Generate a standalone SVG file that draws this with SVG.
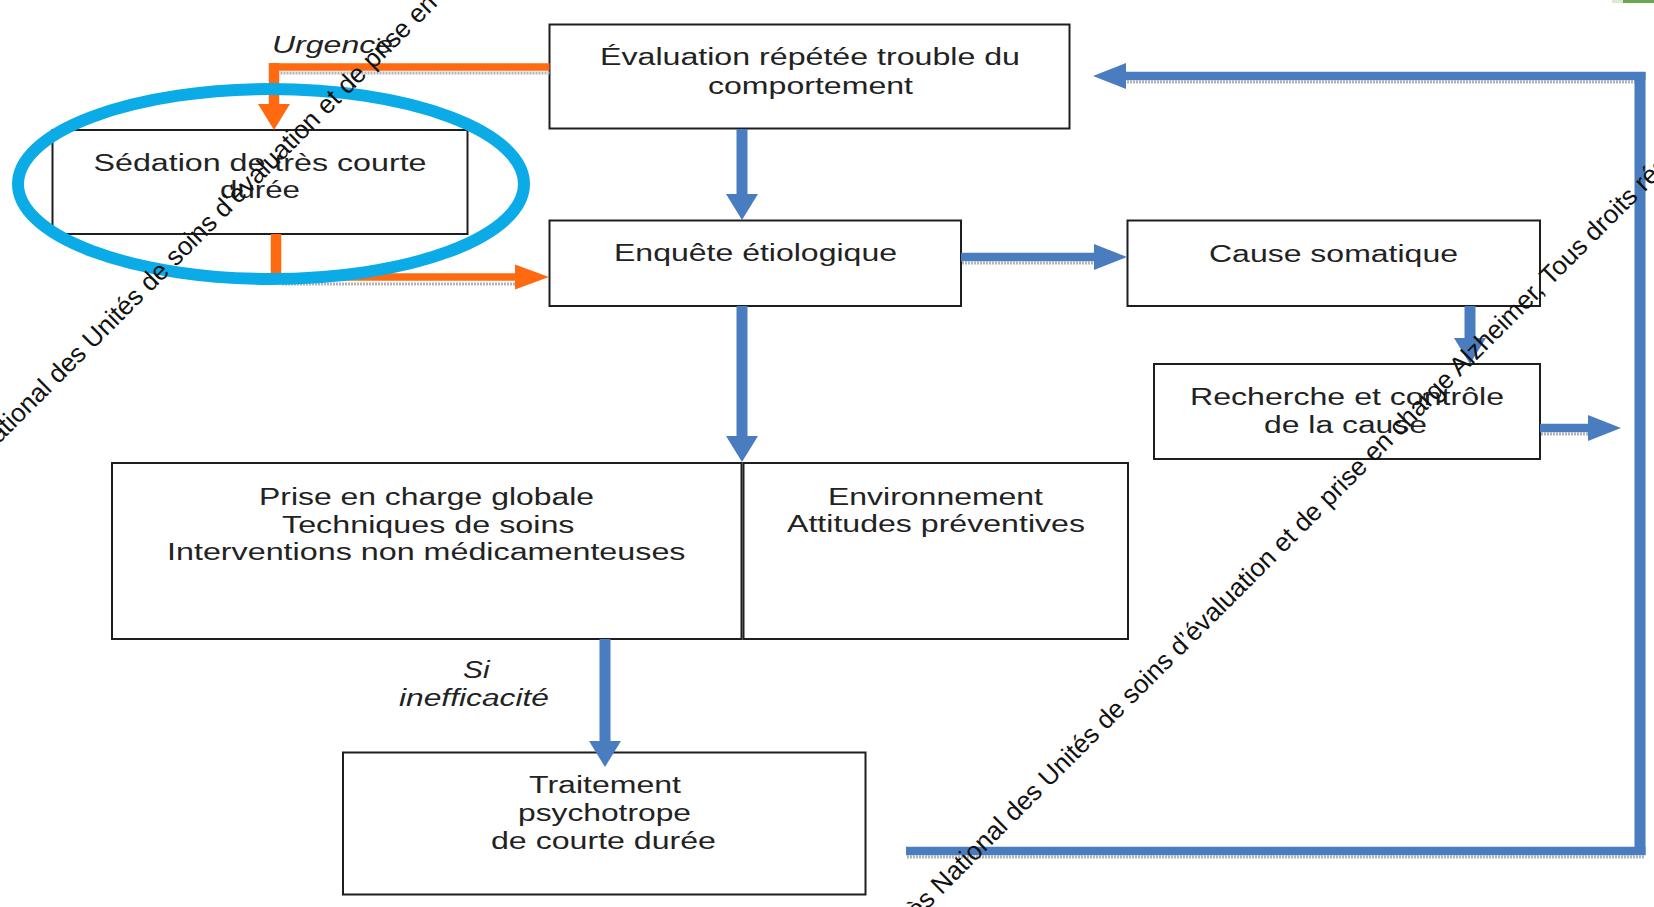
<svg xmlns="http://www.w3.org/2000/svg" width="1654" height="907" viewBox="0 0 1654 907">
<style>
.box{fill:#fff;stroke:#1e1e1e;stroke-width:2}
.t{font-family:"Liberation Sans",Arial,sans-serif;font-size:23px;fill:#222}
.i{font-style:italic}
.bl{fill:none;stroke:#4a7dbf}
.or{fill:none;stroke:#ff6a10}
.h{stroke-width:8.5}
.v{stroke-width:11}
.oh{stroke-width:7.5}
.ov{stroke-width:10.5}
.sh{fill:none;stroke:#b4b4b4;stroke-width:3;stroke-dasharray:2 1}
.wm{font-family:"Liberation Sans",Arial,sans-serif;font-size:26px;fill:#111}
</style>
<defs>
<marker id="bV" markerUnits="userSpaceOnUse" markerWidth="27" markerHeight="34" viewBox="0 -17 27 34" refX="0" refY="0" orient="auto" overflow="visible"><path d="M0,-16 L26,0 L0,16 z" fill="#4a7dbf"/></marker>
<marker id="bH" markerUnits="userSpaceOnUse" markerWidth="34" markerHeight="28" viewBox="0 -14 34 28" refX="0" refY="0" orient="auto" overflow="visible"><path d="M0,-13 L33,0 L0,13 z" fill="#4a7dbf"/></marker>
<marker id="oV" markerUnits="userSpaceOnUse" markerWidth="27" markerHeight="34" viewBox="0 -17 27 34" refX="0" refY="0" orient="auto" overflow="visible"><path d="M0,-16 L26,0 L0,16 z" fill="#ff6a10"/></marker>
<marker id="oH" markerUnits="userSpaceOnUse" markerWidth="34" markerHeight="28" viewBox="0 -14 34 28" refX="0" refY="0" orient="auto" overflow="visible"><path d="M0,-12.5 L34,0 L0,12.5 z" fill="#ff6a10"/></marker>
</defs>
<rect x="0" y="0" width="1654" height="907" fill="#fff"/>
<rect x="1612" y="0" width="11" height="3" fill="#dcebd0"/>
<rect x="1623" y="0" width="31" height="3" fill="#6aa84f"/>

<g id="evaluation">
<rect class="box" x="549.5" y="24.5" width="520" height="104"/>
<text class="t" x="600" y="64.5" textLength="420" lengthAdjust="spacingAndGlyphs">Évaluation répétée trouble du</text>
<text class="t" x="708" y="93.5" textLength="205" lengthAdjust="spacingAndGlyphs">comportement</text>
</g>
<g id="sedation">
<rect class="box" x="52.5" y="130" width="415" height="104"/>
<text class="t" x="93.5" y="170.5" textLength="333" lengthAdjust="spacingAndGlyphs">Sédation de très courte</text>
<text class="t" x="220" y="198" textLength="80" lengthAdjust="spacingAndGlyphs">durée</text>
</g>
<g id="enquete">
<rect class="box" x="549.5" y="220.5" width="411.5" height="85.5"/>
<text class="t" x="614" y="261" textLength="283" lengthAdjust="spacingAndGlyphs">Enquête étiologique</text>
</g>
<g id="cause">
<rect class="box" x="1127.5" y="220.5" width="412.5" height="85.5"/>
<text class="t" x="1209" y="261.5" textLength="249" lengthAdjust="spacingAndGlyphs">Cause somatique</text>
</g>
<g id="recherche">
<rect class="box" x="1154" y="364" width="386" height="95"/>
<text class="t" x="1190" y="405" textLength="314" lengthAdjust="spacingAndGlyphs">Recherche et contrôle</text>
<text class="t" x="1264" y="433" textLength="163" lengthAdjust="spacingAndGlyphs">de la cause</text>
</g>
<g id="prise">
<rect class="box" x="112" y="463" width="629.5" height="176"/>
<text class="t" x="259" y="505" textLength="335" lengthAdjust="spacingAndGlyphs">Prise en charge globale</text>
<text class="t" x="282" y="532.5" textLength="292.5" lengthAdjust="spacingAndGlyphs">Techniques de soins</text>
<text class="t" x="167" y="560" textLength="518.5" lengthAdjust="spacingAndGlyphs">Interventions non médicamenteuses</text>
</g>
<g id="environnement">
<rect class="box" x="743.5" y="463" width="384.5" height="176"/>
<text class="t" x="828" y="505" textLength="215" lengthAdjust="spacingAndGlyphs">Environnement</text>
<text class="t" x="787" y="532" textLength="298" lengthAdjust="spacingAndGlyphs">Attitudes préventives</text>
</g>
<g id="traitement">
<rect class="box" x="343" y="752.5" width="522.5" height="142"/>
<text class="t" x="529" y="793" textLength="152" lengthAdjust="spacingAndGlyphs">Traitement</text>
<text class="t" x="518" y="821" textLength="173" lengthAdjust="spacingAndGlyphs">psychotrope</text>
<text class="t" x="491" y="849" textLength="225" lengthAdjust="spacingAndGlyphs">de courte durée</text>
</g>

<g id="connectors">
<g id="c-urgence">
<path class="sh" d="M549.5,73 H280"/>
<path class="or oh" d="M549.5,67 H269"/>
<path class="or ov" d="M274,63 V104" marker-end="url(#oV)"/>
<text class="t i" x="272" y="52.7" textLength="121" lengthAdjust="spacingAndGlyphs">Urgence</text>
</g>
<g id="c-sedation-enquete">
<path class="sh" d="M282,284 H515"/>
<path class="or ov" d="M276,234 V281"/>
<path class="or oh" d="M271,277 H515" marker-end="url(#oH)"/>
</g>
<g id="c-eval-enquete"><path class="bl v" d="M742,129 V194" marker-end="url(#bV)"/></g>
<g id="c-enquete-cause">
<path class="sh" d="M962,263 H1094"/>
<path class="bl h" d="M961,257 H1094" marker-end="url(#bH)"/>
</g>
<g id="c-enquete-prise"><path class="bl v" d="M742,306 V436" marker-end="url(#bV)"/></g>
<g id="c-cause-recherche"><path class="bl v" d="M1470,306 V338" marker-end="url(#bV)"/></g>
<g id="c-recherche-out">
<path class="sh" d="M1541,434 H1588"/>
<path class="bl h" d="M1540,428 H1588" marker-end="url(#bH)"/>
</g>
<g id="c-prise-traitement">
<path class="bl v" d="M605,639 V741" marker-end="url(#bV)"/>
<text class="t i" x="463" y="678" textLength="26.5" lengthAdjust="spacingAndGlyphs">Si</text>
<text class="t i" x="399" y="706" textLength="150" lengthAdjust="spacingAndGlyphs">inefficacité</text>
</g>
<g id="c-loop">
<path class="sh" d="M907,857 H1645"/>
<path class="sh" d="M1645,82 H1126"/>
<path class="bl h" d="M906,851 H1645.5"/>
<path class="bl v" d="M1640,855 V72"/>
<path class="bl h" d="M1645.5,76 H1126" marker-end="url(#bH)"/>
</g>
</g>

<ellipse id="highlight" cx="271" cy="184" rx="253" ry="95" fill="none" stroke="#0aabe6" stroke-width="12"/>

<g id="watermark">
<text class="wm" transform="translate(-89,532) rotate(-45)">Congrès National des Unités de soins d’évaluation et de prise en charge Alzheimer, Tous droits réservés</text>
<text class="wm" transform="translate(867,970) rotate(-45)">Congrès National des Unités de soins d’évaluation et de prise en charge Alzheimer, Tous droits réservés</text>
</g>
</svg>
